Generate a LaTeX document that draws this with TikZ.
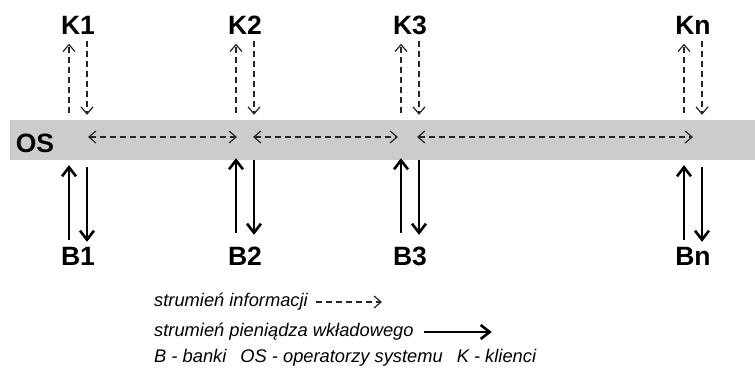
\documentclass[tikz,border=0pt]{standalone}
\usepackage{fontspec}
\setmainfont{Liberation Sans}
\usetikzlibrary{positioning,arrows.meta,calc}
\definecolor{barGray}{RGB}{204,204,204}
\tikzset{ib/.tip={Straight Barb[length=7pt,width=12pt,line width=1.2pt]},mb/.tip={Straight Barb[length=9pt,width=14pt]}}

\begin{document}
\begin{tikzpicture}[x=1pt,y=1pt,info/.style={dash pattern=on 6pt off 4pt,line width=1.4pt,black!85},money/.style={line width=2.6pt,-mb},lbl/.style={font=\fontsize{26.5}{30}\selectfont\bfseries,inner sep=0pt,text height=19pt,text depth=0pt},legend/.style={font=\fontsize{18.3}{22}\selectfont\itshape,inner sep=0pt,anchor=west}]
\useasboundingbox (0,0) rectangle (755,369);
\node[fill=barGray,minimum width=745pt,minimum height=40pt,inner sep=0pt] (bar) at (382.5,229) {};
\node[lbl] (os) at (35,226) {OS};
\node[lbl] (K1) at (78,344) {K1};
\node[lbl] (K2) at (245,344) {K2};
\node[lbl] (K3) at (410,344) {K3};
\node[lbl] (Kn) at (693,344) {Kn};
\node[lbl] (B1) at (78,112.5) {B1};
\node[lbl] (B2) at (245,112.5) {B2};
\node[lbl] (B3) at (410,112.5) {B3};
\node[lbl] (Bn) at (693,112.5) {Bn};
% information between clients and operators
\foreach \k in {K1,K2,K3,Kn} {
\draw[info,-ib] ($(\k.south |- bar.north)+(-9,7)$) -- ($(\k.south)+(-9,-9)$);
\draw[info,-ib] ($(\k.south)+(9,-6)$) -- ($(\k.south |- bar.north)+(9,5)$);
}
\draw[info,ib-ib] ($(K1 |- bar)+(10,3)$) -- ($(K2 |- bar)+(-8,3)$);
\draw[info,ib-ib] ($(K2 |- bar)+(8,3)$) -- ($(K3 |- bar)+(-12,3)$);
\draw[info,ib-ib] ($(K3 |- bar)+(7,3)$) -- ($(Kn |- bar)+(0,3)$);
% money between banks and operators
\foreach \b/\s in {B1/0,B2/7,B3/7,Bn/0} {
\draw[money] ($(\b.north)+(-9,7+\s)$) -- ($(\b.north |- bar.south)+(-9,-5+\s)$);
\draw[money] ($(\b.north |- bar.south)+(9,-7+\s)$) -- ($(\b.north)+(9,5+\s)$);
}
\node[legend] (leg1) at (154,67) {strumień informacji};
\node[legend] (leg2) at (154,37) {strumień pieniądza wkładowego};
\node[legend] (leg3) at (154,11) {B - banki\hspace{14pt}OS - operatorzy systemu\hspace{14pt}K - klienci};
\draw[info,-ib] ([xshift=8pt]leg1.east) -- ([xshift=74pt]leg1.east);
\draw[money] ([xshift=10pt]leg2.east) -- ([xshift=78pt]leg2.east);
\end{tikzpicture}
\end{document}
